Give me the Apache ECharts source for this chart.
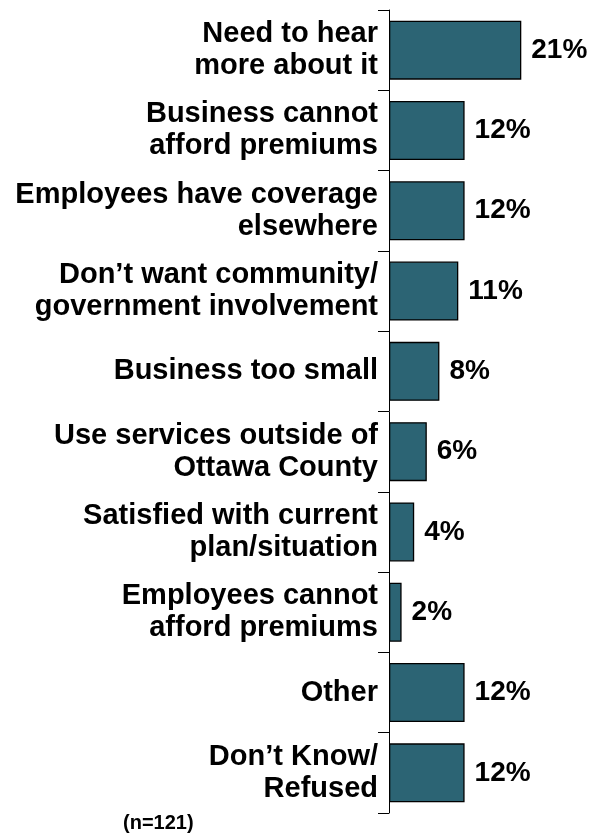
<!DOCTYPE html>
<html>
<head>
<meta charset="utf-8">
<script src="https://cdn.jsdelivr.net/npm/echarts@6/dist/echarts.min.js"></script>
<style>
html,body{margin:0;padding:0;background:#fff;}
#chart{width:592px;height:833px;}
</style>
</head>
<body>
<div id="chart"></div>
<script>
var categories = [
  "Need to hear\nmore about it",
  "Business cannot\nafford premiums",
  "Employees have coverage\nelsewhere",
  "Don\u2019t want community/\ngovernment involvement",
  "Business too small",
  "Use services outside of\nOttawa County",
  "Satisfied with current\nplan/situation",
  "Employees cannot\nafford premiums",
  "Other",
  "Don\u2019t Know/\nRefused"
];
var values = [21, 12, 12, 11, 8, 6, 4, 2, 12, 12];
var sampleNote = "(n=121)";

var chart = echarts.init(document.getElementById('chart'), null, {renderer: 'canvas'});
var FONT = '"Liberation Sans", Arial, sans-serif';
chart.setOption({
  animation: false,
  backgroundColor: '#ffffff',
  grid: {left: 389, right: 14, top: 10, bottom: 20, containLabel: false},
  xAxis: {
    type: 'value', min: 0, max: 30, show: false
  },
  yAxis: {
    type: 'category',
    inverse: true,
    data: categories,
    axisLine: {show: true, lineStyle: {color: '#000', width: 1}},
    axisTick: {show: true, length: 11, lineStyle: {color: '#000', width: 1}},
    axisLabel: {
      interval: 0, margin: 11, color: '#000', fontFamily: FONT,
      fontWeight: 'bold', fontSize: 29, lineHeight: 32, align: 'right'
    },
    splitLine: {show: false}
  },
  series: [{
    type: 'bar',
    data: values,
    barCategoryGap: '26.5%',
    itemStyle: {color: '#2c6474', borderColor: '#000', borderWidth: 1.3},
    label: {
      show: true, position: 'right', distance: 10,
      formatter: '{c}%', color: '#000', fontFamily: FONT,
      fontWeight: 'bold', fontSize: 28
    }
  }],
  graphic: [{
    type: 'text', left: 123, top: 813,
    style: {text: sampleNote, fill: '#000', font: 'bold 20px ' + FONT}
  }]
});
</script>
</body>
</html>
